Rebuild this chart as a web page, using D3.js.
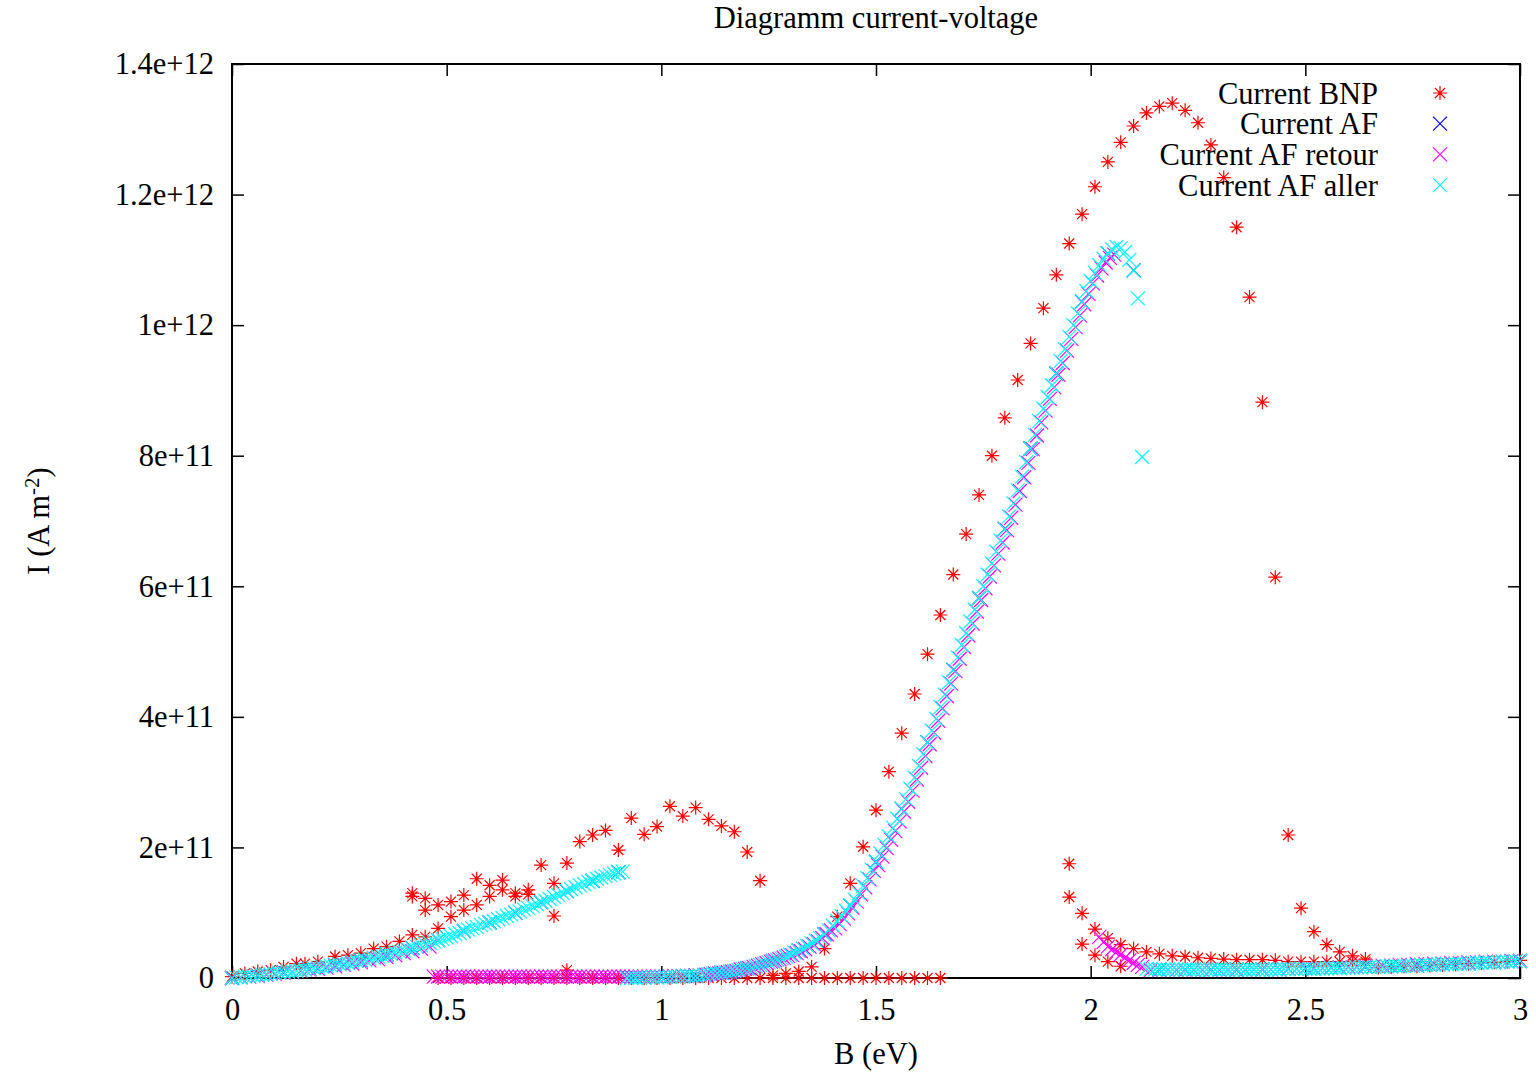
<!DOCTYPE html>
<html>
<head>
<meta charset="utf-8">
<script src="https://cdn.jsdelivr.net/npm/d3@7"></script>
<style>
  body { margin: 0; background: #fff; }
  svg { display: block; }
  text { font-family: "Liberation Serif", "Times New Roman", serif; fill: #000; }
</style>
</head>
<body>
<svg width="1536" height="1072"></svg>
<script>
// current values are given in units of 1e11 A m^-2
const unit = 1e11;

const xTicks = [0, 0.5, 1, 1.5, 2, 2.5, 3];
const xTickLabels = ["0", "0.5", "1", "1.5", "2", "2.5", "3"];
const yTicks = [0, 2e11, 4e11, 6e11, 8e11, 1e12, 1.2e12, 1.4e12];
const yTickLabels = ["0", "2e+11", "4e+11", "6e+11", "8e+11", "1e+12", "1.2e+12", "1.4e+12"];

const seriesNames = ["Current BNP", "Current AF", "Current AF retour", "Current AF aller"];
const seriesColors = ["#ff0000", "#0000ff", "#ff00ff", "#00ffff"];

// Current BNP [B, I]
const bnpLow = [[0.00,0.02],[0.03,0.07],[0.06,0.10],[0.09,0.12],[0.12,0.17],[0.15,0.22],[0.17,0.22],
  [0.20,0.25],[0.24,0.33],[0.27,0.35],[0.30,0.38],[0.33,0.45],[0.36,0.48],[0.39,0.56],[0.42,0.66],
  [0.45,0.63],[0.48,0.76]];
const bnpHump = [[0.42,1.30],[0.42,1.25],[0.45,1.22],[0.45,1.04],[0.48,1.12],[0.51,1.17],[0.51,0.94],
  [0.54,1.27],[0.54,1.04],[0.57,1.52],[0.57,1.12],[0.60,1.42],[0.60,1.25],[0.63,1.50],[0.63,1.35],
  [0.66,1.30],[0.66,1.25],[0.69,1.35],[0.69,1.28],[0.72,1.73],[0.75,1.45],[0.75,0.95],[0.78,1.76],
  [0.81,2.09],[0.84,2.19],[0.87,2.26],[0.90,1.96],[0.93,2.45],[0.96,2.20],[0.99,2.32],[1.02,2.63],
  [1.05,2.48],[1.08,2.61],[1.11,2.43],[1.14,2.33],[1.17,2.24],[1.20,1.93],[1.23,1.49]];
const bnpBase = [[0.48,0],[0.51,0],[0.54,0],[0.57,0],[0.60,0],[0.63,0],[0.66,0],[0.69,0],[0.72,0],
  [0.75,0],[0.78,0],[0.78,0.12],[0.81,0],[0.84,0],[0.87,0],[0.90,0],[0.93,0],[0.96,0],[0.99,0],[1.02,0],
  [1.05,0],[1.08,0],[1.11,0],[1.14,0],[1.17,0],[1.20,0],[1.23,0],[1.26,0],[1.29,0],[1.32,0],[1.35,0],
  [1.38,0],[1.41,0],[1.44,0],[1.47,0],[1.50,0],[1.53,0],[1.56,0],[1.59,0],[1.62,0],[1.65,0]];
const bnpPeak = [[1.26,0.04],[1.29,0.07],[1.32,0.10],[1.35,0.17],[1.38,0.45],[1.41,0.94],[1.44,1.45],
  [1.47,2.01],[1.50,2.57],[1.53,3.16],[1.56,3.75],[1.59,4.35],[1.62,4.96],[1.65,5.56],[1.68,6.18],
  [1.71,6.80],[1.74,7.40],[1.77,8.00],[1.80,8.58],[1.83,9.16],[1.86,9.72],[1.89,10.26],[1.92,10.77],
  [1.95,11.25],[1.98,11.70],[2.01,12.12],[2.04,12.50],[2.07,12.80],[2.10,13.05],[2.13,13.25],
  [2.16,13.35],[2.19,13.40],[2.22,13.29],[2.25,13.10],[2.28,12.76],[2.31,12.26],[2.34,11.50],
  [2.37,10.43],[2.40,8.82],[2.43,6.14],[2.46,2.19],[2.49,1.07],[2.52,0.71],[2.55,0.51],[2.58,0.40],
  [2.61,0.34],[2.64,0.29]];
const bnpFall = [[1.95,1.75],[1.95,1.24],[1.98,0.99],[1.98,0.52],[2.01,0.75],[2.01,0.35],[2.04,0.61],
  [2.04,0.25],[2.07,0.51],[2.07,0.18],[2.10,0.45],[2.13,0.40],[2.16,0.37],[2.19,0.34],[2.22,0.33],
  [2.25,0.31],[2.28,0.30],[2.31,0.29],[2.34,0.28],[2.37,0.28],[2.40,0.28],[2.43,0.27],[2.46,0.25],
  [2.49,0.25],[2.52,0.25],[2.55,0.25],[2.58,0.25],[2.61,0.25],[2.64,0.25]];
const bnpTail = [[2.67,0.16],[2.70,0.17],[2.73,0.18],[2.76,0.18],[2.79,0.19],[2.82,0.20],[2.85,0.21],
  [2.88,0.22],[2.91,0.23],[2.94,0.24],[2.97,0.25],[3.00,0.27]];

// Current AF: sampled every 0.06 eV from 0
const afStep = 0.06;
const afValues = [0.00,0.04,0.09,0.14,0.20,0.27,0.36,0.46,0.58,0.72,0.85,1.00,1.16,1.33,1.49,1.62,
  0.01,0.02,0.04,0.08,0.15,0.26,0.42,0.67,1.11,1.78,2.59,3.61,4.72,5.82,6.88,8.11,9.26,10.36,11.10,10.84,
  0.13,0.13,0.13,0.13,0.13,0.14,0.14,0.16,0.17,0.18,0.19,0.21,0.22,0.24,0.26];

// Current AF aller: sampled every 0.01 eV
const allerLowStart = 0.00;
const allerLow = [0.00,0.01,0.01,0.02,0.02,0.03,0.04,0.05,0.06,0.06,0.07,0.08,0.09,0.10,0.10,0.11,
  0.12,0.13,0.14,0.15,0.16,0.17,0.18,0.19,0.20,0.21,0.22,0.23,0.25,0.26,0.27,0.28,0.30,0.31,0.33,0.34,
  0.36,0.37,0.39,0.40,0.42,0.44,0.46,0.48,0.50,0.52,0.54,0.56,0.58,0.60,0.62,0.64,0.67,0.69,0.72,0.74,
  0.76,0.78,0.81,0.83,0.85,0.87,0.90,0.92,0.95,0.97,1.00,1.02,1.05,1.07,1.10,1.13,1.16,1.18,1.21,1.24,
  1.27,1.30,1.33,1.36,1.39,1.42,1.44,1.47,1.49,1.52,1.54,1.56,1.58,1.60,1.62,1.63];
const allerRiseStart = 0.92;
const allerRise = [0.00,0.00,0.00,0.01,0.01,0.01,0.01,0.01,0.01,0.02,0.02,0.02,0.02,0.02,0.03,0.03,
  0.03,0.04,0.05,0.06,0.07,0.07,0.08,0.09,0.10,0.11,0.12,0.14,0.15,0.16,0.18,0.20,0.22,0.24,0.26,0.28,
  0.30,0.33,0.36,0.39,0.42,0.45,0.49,0.53,0.57,0.61,0.67,0.73,0.80,0.87,0.95,1.03,1.11,1.20,1.30,1.41,
  1.53,1.66,1.78,1.91,2.04,2.17,2.30,2.44,2.59,2.74,2.90,3.07,3.25,3.43,3.61,3.79,3.97,4.15,4.34,4.53,
  4.72,4.91,5.10,5.28,5.46,5.64,5.82,6.00,6.18,6.35,6.53,6.70,6.88,7.07,7.27,7.47,7.68,7.90,8.11,8.32,
  8.53,8.72,8.90,9.08,9.26,9.45,9.63,9.82,10.00,10.18,10.36,10.52,10.68,10.80,10.92,11.02,11.10,11.16,
  11.20,11.18,11.12,11.00,10.84,10.41,7.98];
const allerHighStart = 2.13;
const allerHigh = [0.14,0.14,0.13,0.13,0.13,0.13,0.13,0.13,
  0.13,0.13,0.13,0.13,0.13,0.13,0.13,0.13,0.13,0.13,
  0.13,0.13,0.13,0.13,0.13,0.13,0.13,0.13,0.13,0.13,
  0.13,0.13,0.13,0.13,0.14,0.14,0.14,0.14,0.14,0.14,
  0.14,0.14,0.15,0.15,0.15,0.15,0.15,0.15,0.16,0.16,
  0.16,0.16,0.16,0.17,0.17,0.17,0.17,0.17,0.18,0.18,
  0.18,0.18,0.19,0.19,0.19,0.19,0.20,0.20,0.20,0.20,
  0.21,0.21,0.21,0.21,0.22,0.22,0.22,0.22,0.23,0.23,
  0.23,0.24,0.24,0.24,0.24,0.25,0.25,0.25,0.26,0.26];

// Current AF retour
const retourLowStart = 0.00;   // every 0.02 eV
const retourLow = [0.00,0.01,0.02,0.03,0.05,0.06,0.08,0.09,0.11,0.13,0.14,0.16,0.18,0.20,0.22,0.24,
  0.27,0.29,0.32,0.35,0.38,0.41,0.45,0.48];
const retourBaseStart = 0.47;  // every 0.01 eV
const retourBase = [0.02,0.02,0.02,0.02,0.02,0.02,0.02,0.02,0.02,0.02,0.02,0.02,0.02,0.02,0.02,0.02,
  0.02,0.02,0.02,0.02,0.02,0.02,0.02,0.02,0.02,0.02,0.02,0.02,0.02,0.02,0.02,0.02,0.02,0.02,0.02,0.02,
  0.02,0.02,0.02,0.02,0.02,0.02,0.02,0.02,0.02,0.02,0.02,0.02,0.02,0.02,0.02,0.02,0.02,0.02,0.02,0.02,
  0.03,0.03,0.03,0.03,0.03,0.03,0.04,0.04];
const retourRiseStart = 1.105; // every 0.01 eV
const retourRise = [0.05,0.06,0.07,0.07,0.08,0.09,0.10,0.11,0.13,0.14,0.15,0.17,0.19,0.21,0.23,0.25,
  0.27,0.29,0.31,0.34,0.35,0.38,0.41,0.44,0.48,0.52,0.56,0.61,0.67,0.73,0.76,0.83,0.91,0.99,1.08,1.17,
  1.28,1.39,1.51,1.64,1.73,1.86,1.99,2.12,2.25,2.40,2.55,2.70,2.87,3.04,3.22,3.40,3.58,3.76,3.94,4.13,
  4.32,4.51,4.70,4.89,5.07,5.25,5.43,5.61,5.79,5.97,6.15,6.32,6.50,6.67,6.86,7.05,7.25,7.46,7.67,7.89,
  8.10,8.31,8.51,8.69,8.87,9.05,9.24,9.42,9.61,9.79,9.97,10.15,10.32,10.48,10.64,10.76,10.87,10.96,
  11.03,11.08];
const retourDropStart = 2.02;  // every 0.01 eV
const retourDrop = [0.63,0.55,0.48,0.44,0.40,0.36,0.31,0.27,0.23,0.20,0.17];
const retourHighStart = 2.14;  // every 0.02 eV
const retourHigh = [0.12,0.12,0.12,0.12,0.12,0.12,0.12,0.12,0.12,0.12,0.12,0.12,0.13,0.13,0.13,0.13,
  0.14,0.14,0.15,0.15,0.15,0.16,0.16,0.17,0.17,0.18,0.18,0.19,0.19,0.20,0.20,0.21,0.21,0.22,0.22,0.23,
  0.23,0.24,0.24,0.25,0.25,0.25,0.26,0.26];

function seg(b0, db, vals) {
  return vals.map((v, i) => [b0 + i * db, v]);
}

const series = [
  bnpLow.concat(bnpHump, bnpBase, bnpPeak, bnpFall, bnpTail),
  seg(0, afStep, afValues),
  seg(retourLowStart, 0.02, retourLow).concat(
    seg(retourBaseStart, 0.01, retourBase),
    seg(retourRiseStart, 0.01, retourRise),
    seg(retourDropStart, 0.01, retourDrop),
    seg(retourHighStart, 0.02, retourHigh)),
  seg(allerLowStart, 0.01, allerLow).concat(
    seg(allerRiseStart, 0.01, allerRise),
    seg(allerHighStart, 0.01, allerHigh))
];

const plotLeft = 232, plotRight = 1520, plotTop = 64, plotBottom = 978;
const fontSize = "30.5px";

const svg = d3.select("svg");

const x = d3.scaleLinear().domain([0, 3]).range([plotLeft, plotRight]);
const y = d3.scaleLinear().domain([0, 1.4e12]).range([plotBottom, plotTop]);

const starPath = "M-7,0H7M0,-7V7M-5,-5L5,5M-5,5L5,-5";
const crossPath = "M-7,-7L7,7M-7,7L7,-7";

// axes, ticks inside like gnuplot
svg.append("g")
  .attr("transform", `translate(0,${plotBottom})`)
  .call(d3.axisBottom(x).tickValues(xTicks).tickSize(-12).tickPadding(20)
    .tickFormat((d, i) => xTickLabels[i]))
  .call(g => g.select(".domain").remove());
svg.append("g")
  .attr("transform", `translate(0,${plotTop})`)
  .call(d3.axisTop(x).tickValues(xTicks).tickSize(-12).tickFormat(""))
  .call(g => g.select(".domain").remove());
svg.append("g")
  .attr("transform", `translate(${plotLeft},0)`)
  .call(d3.axisLeft(y).tickValues(yTicks).tickSize(-12).tickPadding(18)
    .tickFormat((d, i) => yTickLabels[i]))
  .call(g => g.select(".domain").remove());
svg.append("g")
  .attr("transform", `translate(${plotRight},0)`)
  .call(d3.axisRight(y).tickValues(yTicks).tickSize(-12).tickFormat(""))
  .call(g => g.select(".domain").remove());

svg.selectAll(".tick line").attr("stroke", "#000").attr("stroke-width", 1.5);
svg.selectAll(".tick text")
  .style("font-family", '"Liberation Serif", serif')
  .style("font-size", fontSize)
  .attr("fill", "#000");

svg.append("rect")
  .attr("x", plotLeft).attr("y", plotTop)
  .attr("width", plotRight - plotLeft).attr("height", plotBottom - plotTop)
  .attr("fill", "none").attr("stroke", "#000").attr("stroke-width", 2);

// points
series.forEach((pts, k) => {
  svg.append("g")
    .selectAll("path")
    .data(pts)
    .enter().append("path")
    .attr("d", k === 0 ? starPath : crossPath)
    .attr("transform", d => `translate(${x(d[0])},${y(d[1] * unit)})`)
    .attr("fill", "none")
    .attr("stroke", seriesColors[k])
    .attr("stroke-width", 1.2);
});

// legend
const legend = svg.append("g");
seriesNames.forEach((name, i) => {
  const ly = 93 + i * 30.7;
  legend.append("text")
    .attr("x", 1378).attr("y", ly).attr("dy", "0.35em")
    .attr("text-anchor", "end")
    .style("font-size", fontSize)
    .text(name);
  legend.append("path")
    .attr("d", i === 0 ? starPath : crossPath)
    .attr("transform", `translate(1440,${ly})`)
    .attr("fill", "none")
    .attr("stroke", seriesColors[i])
    .attr("stroke-width", 1.2);
});

// titles
svg.append("text")
  .attr("x", (plotLeft + plotRight) / 2).attr("y", 28)
  .attr("text-anchor", "middle")
  .style("font-size", fontSize)
  .text("Diagramm current-voltage");

svg.append("text")
  .attr("x", (plotLeft + plotRight) / 2).attr("y", 1064)
  .attr("text-anchor", "middle")
  .style("font-size", fontSize)
  .text("B (eV)");

const ylab = svg.append("text")
  .attr("transform", `translate(49,${(plotTop + plotBottom) / 2}) rotate(-90)`)
  .attr("text-anchor", "middle")
  .style("font-size", fontSize);
ylab.append("tspan").text("I (A m");
ylab.append("tspan").attr("dy", "-0.5em").style("font-size", "21px").text("-2");
ylab.append("tspan").attr("dy", "0.36em").text(")");
</script>
</body>
</html>
